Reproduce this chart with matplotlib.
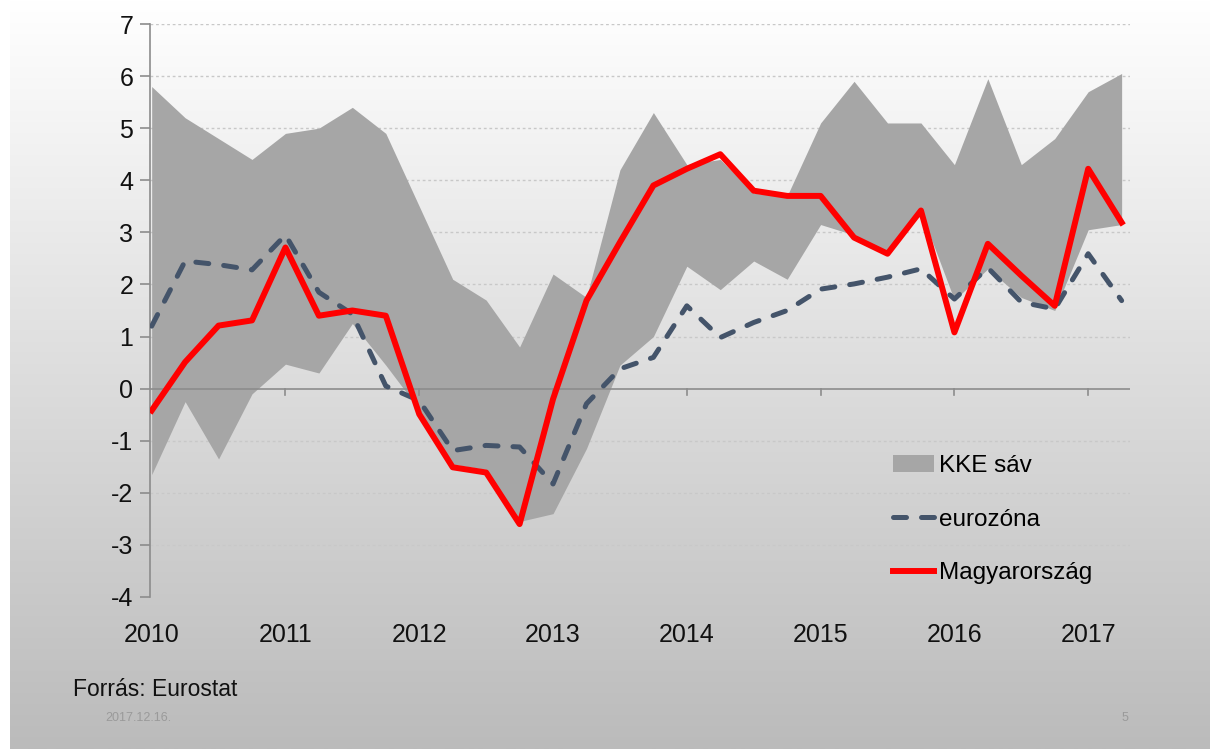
import numpy as np
import matplotlib.pyplot as plt
from matplotlib.patches import Patch
from matplotlib.lines import Line2D
import matplotlib.transforms as mtransforms

plt.rcParams['font.family'] = ['Liberation Sans', 'DejaVu Sans']
plt.rcParams['axes.unicode_minus'] = False

# quarterly data, 2010 Q1 - 2017 Q2
years = [2010, 2011, 2012, 2013, 2014, 2015, 2016, 2017]
kke_upper = [5.8, 5.2, 4.8, 4.4, 4.9, 5.0, 5.4, 4.9, 3.5, 2.1, 1.7, 0.8, 2.2, 1.75, 4.2,
             5.3, 4.3, 4.4, 3.75, 3.7, 5.1, 5.9, 5.1, 5.1, 4.3, 5.95, 4.3, 4.8, 5.7, 6.05]
kke_lower = [-1.65, -0.25, -1.35, -0.1, 0.47, 0.3, 1.25, 0.45, -0.4, -1.45, -1.55, -2.55,
             -2.4, -1.15, 0.45, 1.0, 2.35, 1.9, 2.45, 2.1, 3.15, 2.95, 2.6, 3.4, 1.7, 2.3,
             1.75, 1.5, 3.05, 3.15]
eurozona = [1.2, 2.45, 2.38, 2.28, 2.95, 1.85, 1.43, 0.05, -0.23, -1.19, -1.09, -1.12,
            -1.83, -0.29, 0.38, 0.6, 1.59, 0.98, 1.27, 1.5, 1.91, 2.01, 2.14, 2.3, 1.72,
            2.32, 1.66, 1.53, 2.59, 1.69]
magyarorszag = [-0.42, 0.51, 1.21, 1.31, 2.71, 1.4, 1.5, 1.4, -0.49, -1.51, -1.61, -2.6,
                -0.2, 1.69, 2.81, 3.9, 4.22, 4.5, 3.8, 3.7, 3.7, 2.9, 2.59, 3.42, 1.08,
                2.78, 2.17, 1.59, 4.22, 3.19]
labels = ["KKE sáv", "eurozóna", "Magyarország"]

x = np.arange(len(magyarorszag))
year_pos = np.arange(len(years)) * 4

fig = plt.figure(figsize=(12.2, 7.49), dpi=100)

# slide background gradient
bg = fig.add_axes([10 / 1220, 0, 1200 / 1220, 1], zorder=-10)
grad = np.linspace(255, 187, 300).reshape(-1, 1) / 255.0
bg.imshow(np.dstack([grad, grad, grad]), aspect='auto', extent=[0, 1, 0, 1])
bg.axis('off')

ax = fig.add_axes([150 / 1220, 1 - 597 / 749, 980 / 1220, 573 / 749])
ax.set_facecolor('none')

ax.fill_between(x, kke_lower, kke_upper, color='#a6a6a6', linewidth=0, zorder=2)
ax.axhline(0, color='#8c8c8c', linewidth=1.2, zorder=3)
ax.plot(x, eurozona, color='#44546a', linewidth=3.6, dashes=(2.6, 3.0),
        dash_capstyle='round', zorder=4)
ax.plot(x, magyarorszag, color='#ff0000', linewidth=4.3, solid_joinstyle='round', zorder=5)

ax.set_xlim(-0.05, 29.25)
ax.set_ylim(-4, 7)
ax.set_yticks(range(-4, 8))
for v in range(-4, 8):
    if v != 0:
        ax.axhline(v, color='#c8c8c8', linewidth=1, linestyle=(0, (2, 2)), zorder=1)

for s in ['top', 'right', 'bottom']:
    ax.spines[s].set_visible(False)
ax.spines['left'].set_color('#8c8c8c')
ax.spines['left'].set_linewidth(1.2)
ax.tick_params(axis='y', length=7, width=1.2, color='#8c8c8c', labelsize=18,
               pad=5, labelcolor='#111111')

# category ticks sit on the zero line, labels at the bottom
ax.set_xticks([])
trans = mtransforms.blended_transform_factory(ax.transData, ax.transAxes)
for xp in year_pos[1:]:
    ax.plot([xp, xp], [0, -0.12], color='#8c8c8c', linewidth=1.2, zorder=3)
for xp, yr in zip(year_pos, years):
    ax.text(xp, -0.045, str(yr), transform=trans, ha='center', va='top',
            fontsize=18, color='#111111')

handles = [Patch(facecolor='#a6a6a6', edgecolor='none'),
           Line2D([], [], color='#44546a', linewidth=3.6, dashes=(2.6, 3.0),
                  dash_capstyle='round'),
           Line2D([], [], color='#ff0000', linewidth=4.3)]
ax.legend(handles, labels, loc='upper left', bbox_to_anchor=(0.758, 0.248),
          frameon=False, fontsize=17.5, handlelength=1.7, handletextpad=0.2,
          labelspacing=1.3, borderpad=0, borderaxespad=0)

fig.text(73 / 1220, 1 - 690 / 749, "Forrás: Eurostat", fontsize=16.5, va='center',
         ha='left', color='#111111')
fig.text(105 / 1220, 1 - 718 / 749, "2017.12.16.", fontsize=9, va='center',
         ha='left', color='#9a9a9a')
fig.text(1122 / 1220, 1 - 718 / 749, "5", fontsize=9, va='center',
         ha='left', color='#9a9a9a')

fig.savefig('out.png', dpi=100)
